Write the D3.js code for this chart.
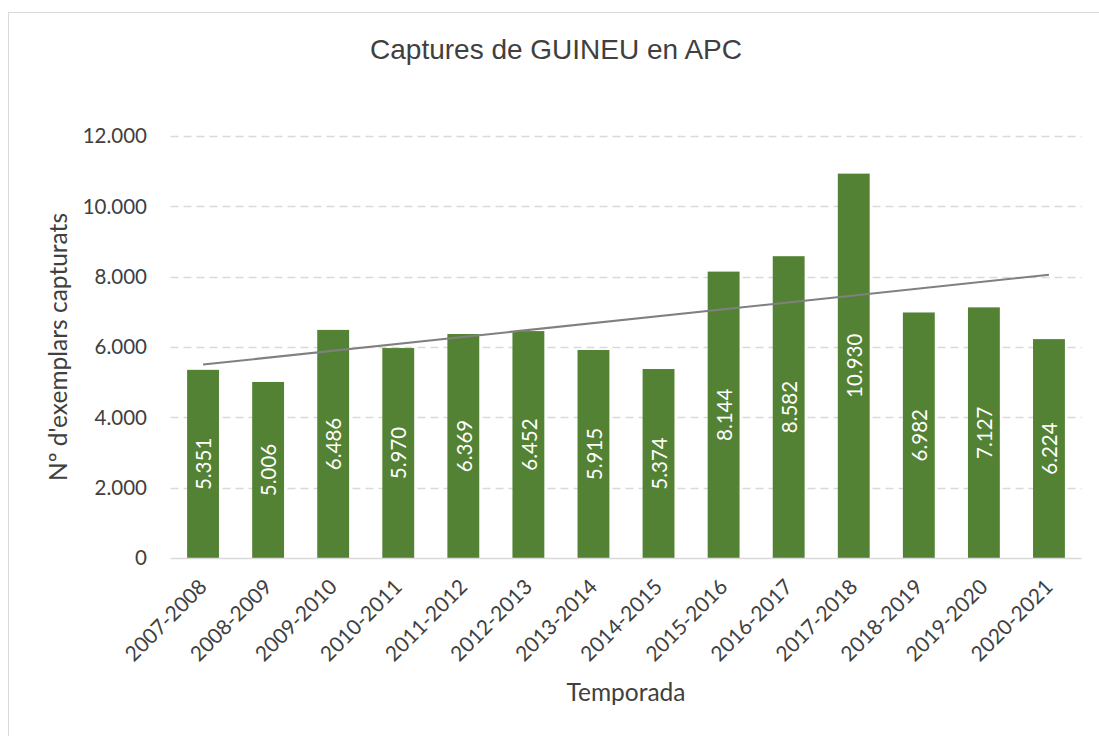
<!DOCTYPE html>
<head>
    <style>
        body { margin: 0; background: #fff; }
        text { fill: #404040; }
    </style>
</head>
<body>
    <script src="https://d3js.org/d3.v7.min.js"></script>
    <script>
        const seasons = ["2007-2008", "2008-2009", "2009-2010", "2010-2011", "2011-2012", "2012-2013", "2013-2014",
            "2014-2015", "2015-2016", "2016-2017", "2017-2018", "2018-2019", "2019-2020", "2020-2021"];
        const captures = [5351, 5006, 6486, 5970, 6369, 6452, 5915, 5374, 8144, 8582, 10930, 6982, 7127, 6224];
        const yTicks = [0, 2000, 4000, 6000, 8000, 10000, 12000];

        const width = 1099;
        const height = 736;
        const plot = {left: 170.5, right: 1081.5, top: 136, bottom: 558};
        const font = "Lato, 'Open Sans', sans-serif";

        const svg = d3.select("body").append("svg").attr("width", width).attr("height", height);

        // chart frame
        svg.append("rect").attr("x", 8.5).attr("y", 12.5).attr("width", 1200).attr("height", 800)
            .attr("fill", "#fff").attr("stroke", "#d9d9d9").attr("stroke-width", 1);

        const x = d3.scaleBand().domain(seasons).range([plot.left, plot.right]).paddingInner(0.51).paddingOuter(0.255);
        const y = d3.scaleLinear().domain([0, 12000]).range([plot.bottom, plot.top]);

        const fmt = d => d3.format(",")(d).replace(/,/g, ".");

        // gridlines
        svg.append("g").selectAll("line").data(yTicks.filter(d => d > 0)).enter().append("line")
            .attr("x1", plot.left).attr("x2", plot.right)
            .attr("y1", d => Math.round(y(d)) + 0.5).attr("y2", d => Math.round(y(d)) + 0.5)
            .attr("stroke", "#d9d9d9").attr("stroke-width", 1.3).attr("stroke-dasharray", "8,5");

        // y tick labels
        svg.append("g").selectAll("text").data(yTicks).enter().append("text")
            .attr("x", 147).attr("y", d => y(d)).attr("dy", "0.35em")
            .attr("text-anchor", "end").attr("font-family", font).attr("font-size", 20.5)
            .text(fmt);

        // bars
        svg.append("g").selectAll("rect").data(captures).enter().append("rect")
            .attr("x", (d, i) => x(seasons[i])).attr("width", x.bandwidth())
            .attr("y", d => y(d)).attr("height", d => y(0) - y(d))
            .attr("fill", "#548235");

        // baseline
        svg.append("line").attr("x1", plot.left).attr("x2", plot.right)
            .attr("y1", plot.bottom + 0.5).attr("y2", plot.bottom + 0.5)
            .attr("stroke", "#d9d9d9").attr("stroke-width", 1.5);

        // linear trend line
        const n = captures.length;
        const xs = d3.range(n);
        const mx = d3.mean(xs), my = d3.mean(captures);
        const slope = d3.sum(xs, i => (i - mx) * (captures[i] - my)) / d3.sum(xs, i => (i - mx) ** 2);
        const icpt = my - slope * mx;
        svg.append("line")
            .attr("x1", x(seasons[0]) + x.bandwidth() / 2).attr("y1", y(icpt))
            .attr("x2", x(seasons[n - 1]) + x.bandwidth() / 2).attr("y2", y(icpt + slope * (n - 1)))
            .attr("stroke", "#808080").attr("stroke-width", 2);

        // bar value labels
        svg.append("g").selectAll("text").data(captures).enter().append("text")
            .attr("transform", (d, i) => `translate(${x(seasons[i]) + x.bandwidth() / 2 + 1},${(y(d) + y(0)) / 2}) rotate(-90)`)
            .attr("text-anchor", "middle").attr("dy", "0.35em")
            .attr("font-family", font).attr("font-size", 20.5)
            .style("fill", "#fff")
            .text(fmt);

        // x tick labels
        svg.append("g").selectAll("text").data(seasons).enter().append("text")
            .attr("transform", d => `translate(${x(d) + x.bandwidth() / 2},${plot.bottom + 25}) rotate(-45)`)
            .attr("text-anchor", "end").attr("dy", "0.35em")
            .attr("font-family", font).attr("font-size", 21)
            .text(d => d);

        // titles
        svg.append("text").attr("x", 556).attr("y", 49).attr("dy", "0.35em").attr("text-anchor", "middle")
            .attr("font-family", "'Liberation Sans', Arial, sans-serif").attr("font-size", 28)
            .text("Captures de GUINEU en APC");

        svg.append("text").attr("x", 626).attr("y", 692).attr("dy", "0.35em").attr("text-anchor", "middle")
            .attr("font-family", font).attr("font-size", 24.5)
            .text("Temporada");

        svg.append("text").attr("transform", "translate(58,347) rotate(-90)").attr("dy", "0.35em").attr("text-anchor", "middle")
            .attr("font-family", font).attr("font-size", 24.5)
            .text("Nº d'exemplars capturats");
    </script>
</body>
</html>
